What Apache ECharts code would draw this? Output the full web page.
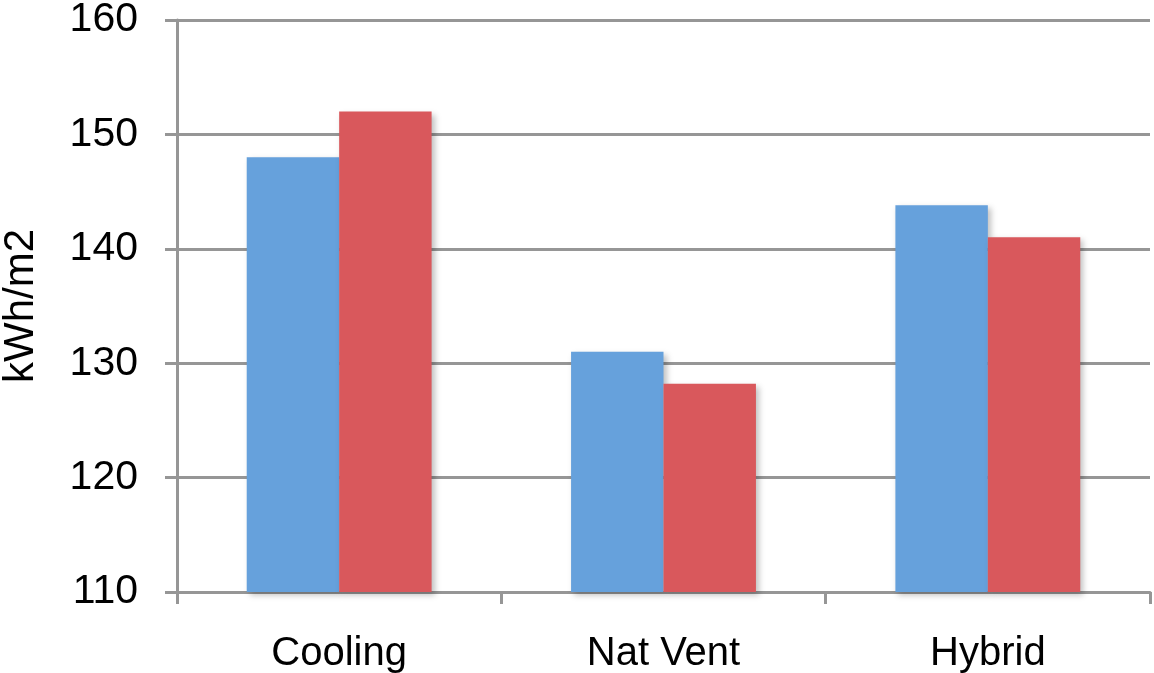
<!DOCTYPE html>
<html>
<head>
<meta charset="utf-8">
<script src="https://cdn.jsdelivr.net/npm/echarts@6/dist/echarts.min.js"></script>
<style>
html,body{margin:0;padding:0;background:#fff;}
#chart{width:1154px;height:673px;}
</style>
</head>
<body>
<div id="chart"></div>
<script>
const categories = ['Cooling', 'Nat Vent', 'Hybrid'];
const seriesBlue = [148, 131, 143.8];
const seriesRed = [152, 128.2, 141];
const yMin = 110, yMax = 160, yStep = 10;
const yAxisName = 'kWh/m2';

const gray = '#969696';
const font = 'Liberation Sans, Arial, sans-serif';
const chart = echarts.init(document.getElementById('chart'), null, {renderer: 'canvas'});
chart.setOption({
  animation: false,
  backgroundColor: '#ffffff',
  grid: {left: 177, right: 4, top: 20, bottom: 81, containLabel: false, outerBoundsMode: 'none'},
  xAxis: {
    type: 'category',
    data: categories,
    axisLine: {lineStyle: {color: gray, width: 3}},
    axisTick: {show: true, length: 12, lineStyle: {color: gray, width: 3}},
    axisLabel: {color: '#000', fontSize: 40, fontFamily: font, margin: 42}
  },
  yAxis: {
    type: 'value',
    min: yMin, max: yMax, interval: yStep,
    name: yAxisName,
    nameLocation: 'middle',
    nameGap: 135,
    nameTextStyle: {color: '#000', fontSize: 42, fontFamily: font},
    axisLine: {show: true, lineStyle: {color: gray, width: 3}},
    axisTick: {show: true, length: 12, lineStyle: {color: gray, width: 3}},
    axisLabel: {color: '#000', fontSize: 41, fontFamily: font, margin: 39},
    splitLine: {show: true, lineStyle: {color: gray, width: 3}}
  },
  series: [
    {
      type: 'bar', data: seriesBlue, barGap: '0%', barCategoryGap: '43%',
      itemStyle: {color: '#66A1DC', shadowColor: 'rgba(0,0,0,0.25)', shadowBlur: 6, shadowOffsetX: 3, shadowOffsetY: 3}
    },
    {
      type: 'bar', data: seriesRed, barGap: '0%', barCategoryGap: '43%',
      itemStyle: {color: '#D9585C', shadowColor: 'rgba(0,0,0,0.25)', shadowBlur: 6, shadowOffsetX: 3, shadowOffsetY: 3}
    }
  ]
});
</script>
</body>
</html>
